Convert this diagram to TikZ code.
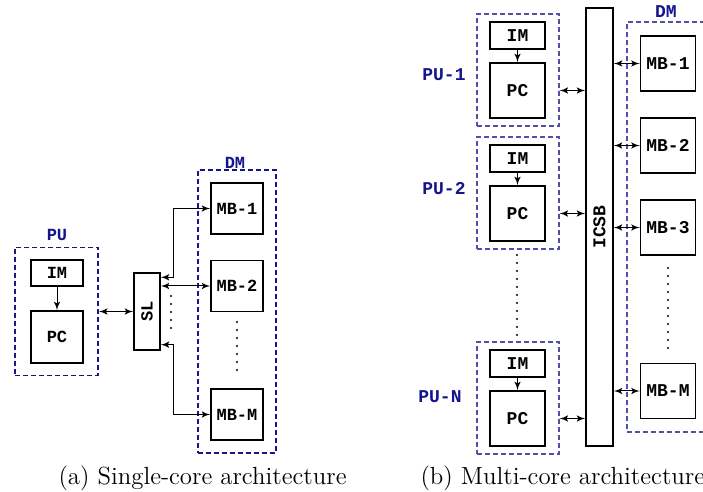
\documentclass[tikz,border=0pt]{standalone}
\usepackage{fontspec}
\newfontfamily\codefont{Liberation Mono}
\usetikzlibrary{shapes,arrows,positioning}
\definecolor{publue}{RGB}{20,20,140}
\definecolor{dashblue}{RGB}{80,80,170}
\newcommand{\labelfont}[1]{\codefont\bfseries\fontsize{#1}{10}\selectfont}

\begin{document}
\begin{tikzpicture}[x=0.5pt, y=-0.5pt, >=latex', line width=0.5pt]
        \tikzstyle{block}=[draw=black, line width=0.7pt, inner sep=0pt, font=\labelfont{8.5}]
        \tikzstyle{bblock}=[block, font=\labelfont{9}]
        \tikzstyle{group}=[draw=publue, line width=0.9pt, dash pattern=on 2.5pt off 1.5pt, inner sep=0pt]
        \tikzstyle{bgroup}=[group, draw=dashblue, line width=0.55pt]
        \tikzstyle{title}=[text=publue, inner sep=0pt, font=\labelfont{8.5}]
        \tikzstyle{btitle}=[title, font=\labelfont{9}]
        \tikzstyle{dots}=[line width=1.1pt, line cap=round, dash pattern=on 0pt off 4pt]
        \tikzstyle{caption}=[anchor=base west, inner sep=0pt, font=\fontsize{12.4}{14}\selectfont]
        \useasboundingbox (0,0) rectangle (703,492);
        \clip (0,0) rectangle (703,492);

        % (a) single core
        \node[group, minimum width=41.5pt, minimum height=64pt]   (sPU) at (56.5,311.5) {};
        \node[title]                                              (sPUt) at (57,235) {PU};
        \node[block, minimum width=26pt, minimum height=13pt]     (sIM) at (57,273) {IM};
        \node[block, minimum width=26pt, minimum height=26pt]     (sPC) at (57,337) {PC};
        \node[block, minimum width=13pt, minimum height=38.5pt]   (sSL) at (147,311.5) {\rotatebox{90}{SL}};
        \node[group, minimum width=39pt, minimum height=141.5pt]  (sDM) at (237,311.5) {};
        \node[title]                                              (sDMt) at (235,163) {DM};
        \node[block, minimum width=26pt, minimum height=25.5pt]   (sMB1) at (237,208.5) {MB-1};
        \node[block, minimum width=26pt, minimum height=25.5pt]   (sMB2) at (237,286) {MB-2};
        \node[block, minimum width=26pt, minimum height=25.5pt]   (sMBM) at (237,414.5) {MB-M};

        \draw[->]  (sIM) -- (sPC);
        \draw[<->] (sPU.east) -- (sSL.west);
        \draw[<->] ([yshift=-2.5pt]sSL.north east) -- ++(13,0) |- (sMB1.west);
        \draw[<->] (sSL.east |- sMB2) -- (sMB2.west);
        \draw[<->] ([yshift=3pt]sSL.south east) -- ++(13,0) |- (sMBM.west);
        \draw[dots] (171,296) -- (171,334);
        \draw[dots] (237,322) -- (237,373);

        % (b) multi core
        \foreach \n/\y/\lx/\ly in {1/14/444/75, 2/137/444/189, N/342/440/397} {
            \node[bgroup, minimum width=41pt, minimum height=56pt]      (mPU\n) at (518,{\y+56}) {};
            \node[bblock, minimum width=27.5pt, minimum height=13.5pt]  (mIM\n) at (517.5,{\y+21.5}) {IM};
            \node[bblock, minimum width=27.5pt, minimum height=27.5pt]  (mPC\n) at (517.5,{\y+76.5}) {PC};
            \node[btitle] (mPUt\n) at (\lx,\ly) {PU-\n};
            \draw[->] (mIM\n) -- (mPC\n);
        }
        \node[bblock, minimum width=13.5pt, minimum height=219pt]  (mBus) at (599.5,227) {\rotatebox{90}{ICSB}};
        \node[bgroup, minimum width=41pt, minimum height=205pt]    (mDM) at (668,227) {};
        \node[btitle]                                              (mDMt) at (666,12) {DM};
        \foreach \n/\y in {1/63.5, 2/145.5, 3/227.5, M/391}
            \node[bblock, minimum width=27.5pt, minimum height=27.5pt] (mMB\n) at (668,\y) {MB-\n};

        \foreach \n in {1,2,N}
            \draw[<->] (mPU\n.east |- mPC\n) -- (mBus.west |- mPC\n);
        \foreach \n in {1,2,3,M}
            \draw[<->] (mBus.east |- mMB\n) -- (mMB\n.west);
        \draw[dots] (517,255) -- (517,337);
        \draw[dots] (668,268) -- (668,349);

        % captions
        \node[caption] (capA) at (58,485) {(a) Single-core architecture};
        \node[caption] (capB) at (420,485) {(b) Multi-core architecture};
    \end{tikzpicture}
\end{document}
